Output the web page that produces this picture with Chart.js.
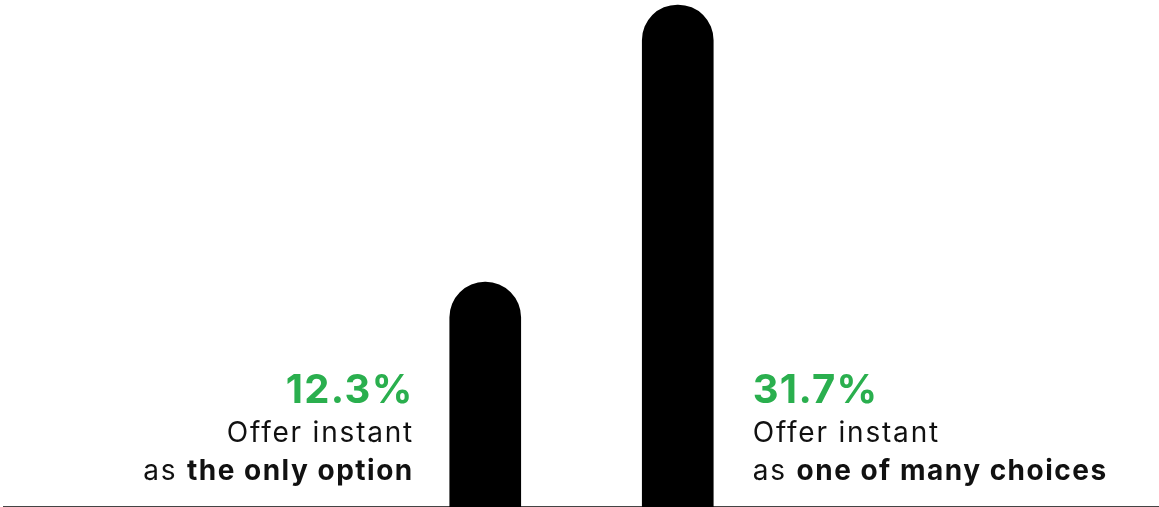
<!DOCTYPE html>
<html>
<head>
<meta charset="utf-8">
<script src="https://cdn.jsdelivr.net/npm/chart.js@4"></script>
<style>
  html, body { margin: 0; padding: 0; background: #fff; }
  #wrap { width: 1159px; height: 507px; position: relative; }
</style>
</head>
<body>
<div id="wrap"><canvas id="chart"></canvas></div>
<script>
// slots: the two bars sit in the middle of six equal slots
const categories = ['', '', 'only', 'many', '', ''];
const values = [null, null, 12.3, 31.7, null, null];
const pctLabels = ['', '', '12.3%', '31.7%', '', ''];
const line1 = ['', '', 'Offer instant', 'Offer instant', '', ''];
const line2Plain = ['', '', 'as ', 'as ', '', ''];
const line2Bold = ['', '', 'the only option', 'one of many choices', '', ''];
const labelSide = ['', '', 'left', 'right', '', ''];

const AXIS_MIN = -3.45;
const AXIS_MAX = 32.05;
const GREEN = '#2aaf4e';
const FONT = 'Inter, "Noto Sans", sans-serif';

// measure without the trailing letter spacing
function textW(ctx, s){
  const sp = parseFloat(ctx.letterSpacing) || 0;
  return ctx.measureText(s).width - (s.length ? sp : 0);
}

// draws the text blocks next to each bar
const sideLabels = {
  id: 'sideLabels',
  afterDatasetsDraw(chart){
    const ctx = chart.ctx;
    const meta = chart.getDatasetMeta(0);
    meta.data.forEach((bar, i) => {
      if(values[i] == null) return;
      const half = bar.width / 2;
      const left = labelSide[i] === 'left';
      const x = left ? bar.x - half - 37.5 : bar.x + half + 39.5;
      const yBase = chart.chartArea.bottom;
      ctx.save();
      ctx.textBaseline = 'alphabetic';
      ctx.textAlign = 'left';

      ctx.font = '700 40px ' + FONT;
      ctx.letterSpacing = '1.3px';
      ctx.fillStyle = GREEN;
      let w = textW(ctx, pctLabels[i]);
      ctx.fillText(pctLabels[i], left ? x - w : x, yBase - 104);

      ctx.font = '400 28px ' + FONT;
      ctx.letterSpacing = '1.8px';
      ctx.fillStyle = '#111';
      w = textW(ctx, line1[i]);
      ctx.fillText(line1[i], left ? x - w : x, yBase - 65);

      ctx.font = '400 28px ' + FONT;
      const wPlain = ctx.measureText(line2Plain[i]).width;
      ctx.font = '700 28px ' + FONT;
      ctx.letterSpacing = '1.5px';
      const wBold = textW(ctx, line2Bold[i]);
      const start = left ? x - wPlain - wBold : x;
      ctx.font = '400 28px ' + FONT;
      ctx.letterSpacing = '1.8px';
      ctx.fillText(line2Plain[i], start, yBase - 27);
      ctx.font = '700 28px ' + FONT;
      ctx.letterSpacing = '1.5px';
      ctx.fillText(line2Bold[i], start + wPlain, yBase - 27);
      ctx.restore();
    });
  }
};

new Chart(document.getElementById('chart'), {
  type: 'bar',
  data: {
    labels: categories,
    datasets: [{
      data: values,
      base: AXIS_MIN,
      backgroundColor: '#000',
      barThickness: 71,
      borderRadius: 40,
      borderSkipped: 'start'
    }]
  },
  options: {
    responsive: true,
    maintainAspectRatio: false,
    animation: false,
    layout: { padding: { left: 4, right: 0, top: 0, bottom: 0 } },
    plugins: { legend: { display: false }, tooltip: { enabled: false } },
    scales: {
      x: {
        grid: { display: false, drawTicks: false },
        border: { display: true, color: '#444', width: 2 },
        ticks: { display: false }
      },
      y: { display: false, min: AXIS_MIN, max: AXIS_MAX }
    }
  },
  plugins: [sideLabels]
});
</script>
</body>
</html>
